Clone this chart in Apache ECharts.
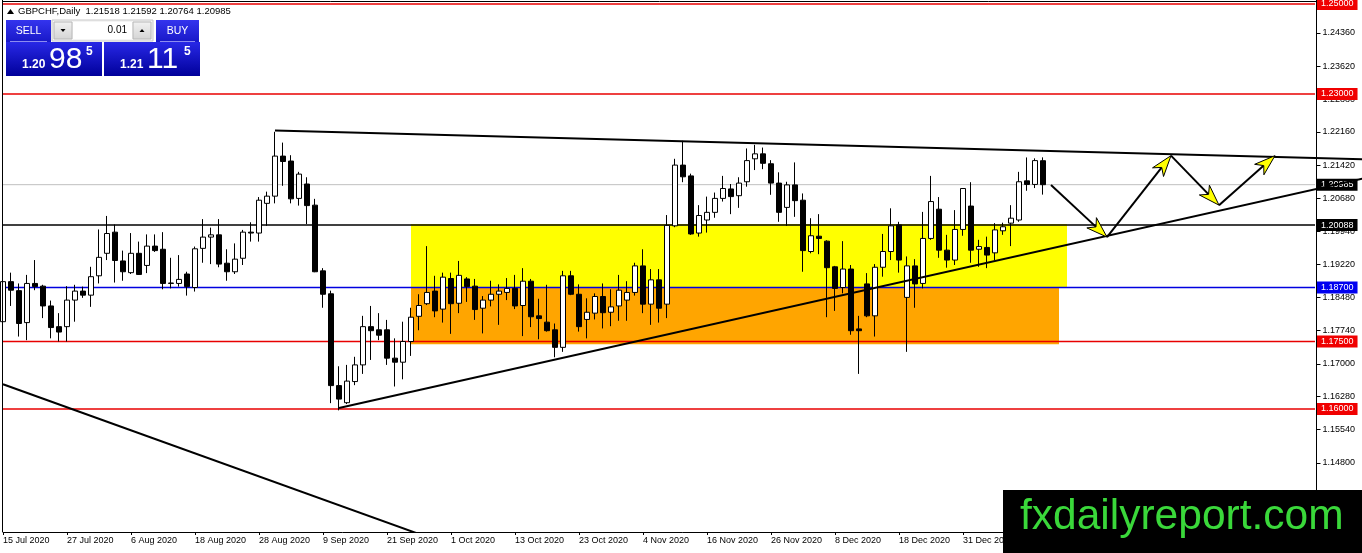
<!DOCTYPE html>
<html>
<head>
<meta charset="utf-8">
<script src="https://cdn.jsdelivr.net/npm/echarts@6.0.0/dist/echarts.min.js"></script>
<style>html,body{margin:0;padding:0;background:#fff;}#chart{width:1362px;height:553px;}</style>
</head>
<body>
<div id="chart"></div>
<script>
// ---------------- DATA ----------------
const symbolName = 'GBPCHF,Daily';
const firstDate = '2020-07-15';
const closedDays = ['2020-12-25', '2021-01-01'];
const categoryCount = 171;

const openP = [
1.1794,1.1883,1.1863,1.1792,1.1879,1.1873,1.1829,1.1783,1.1783,1.1842,
1.1862,1.1853,1.1896,1.1946,1.1993,1.1929,1.1903,1.1946,1.1919,1.1962,
1.1955,1.1879,1.1879,1.1900,1.1870,1.1957,1.1982,1.1987,1.1924,1.1905,
1.1935,1.1993,1.1991,1.2057,1.2073,1.2162,1.2151,1.2068,1.2100,1.2053,
1.1907,1.1856,1.1652,1.1614,1.1661,1.1698,1.1783,1.1776,1.1776,1.1713,
1.1704,1.1750,1.1806,1.1834,1.1862,1.1822,1.1890,1.1835,1.1889,1.1873,
1.1824,1.1842,1.1855,1.1859,1.1868,1.1830,1.1884,1.1807,1.1793,1.1776,
1.1737,1.1896,1.1855,1.1799,1.1813,1.1850,1.1815,1.1829,1.1842,1.1859,
1.1918,1.1833,1.1887,1.1833,1.2007,1.2142,1.2118,1.1991,1.2020,1.2037,
1.2068,1.2089,1.2074,1.2105,1.2156,1.2167,1.2145,1.2102,1.2048,1.2098,
1.2064,1.1950,1.1984,1.1973,1.1916,1.1870,1.1911,1.1778,1.1878,1.1807,
1.1915,1.1950,1.2009,1.1848,1.1918,1.1879,1.1979,1.2044,1.1953,1.1931,
1.1999,1.2051,1.1955,1.1959,1.1947,1.1996,1.2013,1.2020,1.2107,1.2099,
1.21518];
const highP = [
1.1911,1.1903,1.1879,1.1898,1.1931,1.1876,1.1841,1.1813,1.1873,1.1876,
1.1872,1.1916,1.1999,1.2029,1.2010,1.1952,1.1991,1.1972,1.1988,1.1988,
1.1993,1.1936,1.1942,1.1905,1.1961,1.2022,1.2003,1.2022,1.1955,1.1968,
1.1998,1.2015,1.2071,1.2083,1.2216,1.2192,1.2164,1.2127,1.2115,1.2067,
1.1913,1.1863,1.1695,1.1698,1.1716,1.1807,1.1829,1.1813,1.1798,1.1757,
1.1794,1.1825,1.1855,1.1962,1.1896,1.1903,1.1903,1.1929,1.1893,1.1889,
1.1851,1.1885,1.1877,1.1891,1.1898,1.1913,1.1889,1.1845,1.1876,1.1790,
1.1907,1.1907,1.1877,1.1846,1.1857,1.1879,1.1866,1.1898,1.1884,1.1925,
1.1955,1.1911,1.1911,1.2031,1.2156,1.2196,1.2123,1.2053,1.2072,1.2081,
1.2118,1.2100,1.2115,1.2179,1.2187,1.2181,1.2153,1.2126,1.2105,1.2148,
1.2079,1.2024,1.2033,1.1975,1.1918,1.1973,1.1920,1.1807,1.1902,1.1922,
1.1989,1.2046,1.2016,1.1939,1.1933,1.2038,1.2118,1.2071,1.1987,1.2042,
1.2091,1.2104,1.1976,1.1983,1.2013,1.2014,1.2053,1.2127,1.2159,1.2157,
1.21592];
const lowP = [
1.1789,1.1829,1.1761,1.1753,1.1864,1.1802,1.1757,1.1750,1.1750,1.1794,
1.1847,1.1827,1.1879,1.1931,1.1881,1.1885,1.1900,1.1898,1.1902,1.1949,
1.1866,1.1868,1.1872,1.1852,1.1861,1.1925,1.1922,1.1915,1.1885,1.1900,
1.1920,1.1972,1.1972,1.2007,1.2057,1.2096,1.2057,1.2052,1.2011,1.1904,
1.1825,1.1613,1.1597,1.1611,1.1653,1.1678,1.1709,1.1753,1.1698,1.1650,
1.1666,1.1718,1.1775,1.1831,1.1804,1.1792,1.1767,1.1813,1.1838,1.1798,
1.1768,1.1828,1.1787,1.1842,1.1822,1.1762,1.1782,1.1755,1.1772,1.1715,
1.1727,1.1853,1.1772,1.1757,1.1799,1.1779,1.1784,1.1796,1.1796,1.1852,
1.1813,1.1787,1.1792,1.1802,1.2004,1.2104,1.1987,1.1983,1.1992,1.2025,
1.2061,1.2033,1.2047,1.2094,1.2131,1.2133,1.2076,1.2016,1.2007,1.2027,
1.1905,1.1946,1.1944,1.1804,1.1818,1.1857,1.1765,1.1678,1.1804,1.1761,
1.1894,1.1931,1.1903,1.1727,1.1825,1.1868,1.1976,1.1936,1.1914,1.1920,
1.1985,1.1925,1.1916,1.1913,1.1931,1.1987,1.1962,1.2016,1.2085,1.2091,
1.20764];
const closeP = [
1.1883,1.1864,1.1790,1.1879,1.1872,1.1829,1.1781,1.1771,1.1842,1.1862,
1.1853,1.1894,1.1937,1.1990,1.1930,1.1905,1.1946,1.1899,1.1962,1.1952,
1.1879,1.1880,1.1888,1.1872,1.1956,1.1982,1.1987,1.1922,1.1905,1.1933,
1.1993,1.1991,1.2064,1.2073,1.2162,1.2150,1.2067,1.2122,1.2052,1.1905,
1.1855,1.1652,1.1622,1.1662,1.1698,1.1783,1.1774,1.1764,1.1713,1.1704,
1.1750,1.1804,1.1830,1.1859,1.1818,1.1893,1.1834,1.1897,1.1872,1.1821,
1.1842,1.1855,1.1862,1.1868,1.1829,1.1884,1.1805,1.1801,1.1774,1.1737,
1.1896,1.1855,1.1783,1.1815,1.1850,1.1814,1.1827,1.1864,1.1859,1.1918,
1.1833,1.1887,1.1824,1.2008,1.2142,1.2116,1.1989,1.2030,1.2037,1.2068,
1.2090,1.2072,1.2102,1.2152,1.2167,1.2146,1.2102,1.2037,1.2098,1.2063,
1.1952,1.1985,1.1979,1.1914,1.1868,1.1911,1.1774,1.1774,1.1807,1.1915,
1.1950,1.2007,1.1931,1.1918,1.1878,1.1979,1.2061,1.1953,1.1931,1.1999,
1.2090,1.1953,1.1961,1.1942,1.1998,1.2005,1.2024,1.2105,1.2099,1.2152,
1.20985];

// price axis tick labels
const yTickValues = [1.24360,1.23620,1.22880,1.22160,1.21420,1.20680,1.19940,1.19220,1.18480,1.17740,1.17000,1.16280,1.15540,1.14800,1.14060];
const yMin = 1.1326667, yMax = 1.2508889;

// horizontal level lines (price), drawn up to category index levelEndIndex
const levelPrices = [1.25000, 1.23000, 1.20985, 1.20088, 1.18700, 1.17500, 1.16000];
const levelEndIndex = 164;

// zones: [fromIndex, toIndex, lowPrice, highPrice]
const yellowZone = [51, 133, 1.1869, 1.2011];
const orangeZone = [51, 132, 1.1744, 1.1869];

// trend lines: [categoryIndex, price]
const trendTop = [[34, 1.2219], [170, 1.2155]];
const trendBottom = [[42, 1.1602], [170, 1.2112]];
const trendLeft = [[0, 1.1655], [60, 1.1271]];

// projected zigzag path
const projectionPath = [[131, 1.2098], [138, 1.1982], [146, 1.2163], [152, 1.2053], [159, 1.2163]];

// one-click trading panel quotes
const bidQuote = 1.20985, askQuote = 1.21115, lotSize = '0.01';

// ---------------- STYLES ----------------
const levelLineColors = ['#e80000','#e80000','#c0c0c0','#000000','#0000e0','#e80000','#e80000'];
const levelLineWidths = [1.5, 1.5, 1, 1.4, 1.5, 1.5, 1.5];
const levelBoxColors  = ['#f00000','#f00000','#000000','#000000','#0000f0','#f00000','#f00000'];
const FONT = 'Liberation Sans';

// ---------------- BUILD ----------------
const monthNames = ['Jan','Feb','Mar','Apr','May','Jun','Jul','Aug','Sep','Oct','Nov','Dec'];
const dates = [];
{
  let t = Date.parse(firstDate + 'T00:00:00Z');
  while (dates.length < categoryCount) {
    const d = new Date(t);
    const iso = d.toISOString().slice(0, 10);
    const dow = d.getUTCDay();
    if (dow !== 0 && dow !== 6 && closedDays.indexOf(iso) < 0) {
      dates.push(d.getUTCDate() + ' ' + monthNames[d.getUTCMonth()] + ' ' + d.getUTCFullYear());
    }
    t += 86400000;
  }
}
const candles = openP.map((o, i) => [o, closeP[i], lowP[i], highP[i]]);
const projSegments = [];
for (let i = 0; i < projectionPath.length - 1; i++) {
  projSegments.push([projectionPath[i][0], projectionPath[i][1], projectionPath[i + 1][0], projectionPath[i + 1][1]]);
}
const levelSeries = levelPrices.map((p, i) => ({
  type: 'line', z: 1, silent: true, symbol: 'none', showSymbol: false,
  data: [[0, p], [levelEndIndex, p]],
  color: levelLineColors[i],
  lineStyle: { color: levelLineColors[i], width: levelLineWidths[i], type: 'solid', opacity: 1 },
  emphasis: { disabled: true },
  endLabel: { show: true, distance: 2, formatter: p.toFixed(5), color: '#fff',
    backgroundColor: levelBoxColors[i], padding: [2, 4, 1, 4], fontSize: 9, fontFamily: FONT }
}));

const last = openP.length - 1;
const headerText = symbolName + '  ' + [openP[last], highP[last], lowP[last], closeP[last]].map(v => v.toFixed(5)).join(' ');
const bidS = bidQuote.toFixed(5), askS = askQuote.toFixed(5);

function grad(c1, c2) { return new echarts.graphic.LinearGradient(0, 0, 0, 1, [{offset:0,color:c1},{offset:1,color:c2}]); }
function priceBox(x, s) {
  return [
    { type: 'rect', z: 100, shape: { x: x, y: 42, width: 96, height: 34 }, style: { fill: grad('#2828e6', '#00009a') } },
    { type: 'text', z: 101, x: x + 16, y: 65, style: { text: s.slice(0, 4), font: 'bold 12px "' + FONT + '"', fill: '#fff', verticalAlign: 'middle' } },
    { type: 'text', z: 101, x: x + 43, y: 59.5, style: { text: s.slice(4, 6), font: '30px "' + FONT + '"', fill: '#fff', verticalAlign: 'middle' } },
    { type: 'text', z: 101, x: x + 80, y: 52, style: { text: s.slice(6), font: 'bold 12px "' + FONT + '"', fill: '#fff', verticalAlign: 'middle' } }
  ];
}

const graphics = [
  { type: 'line', z: 50, shape: { x1: 2.5, y1: 0, x2: 2.5, y2: 532 }, style: { stroke: '#000', lineWidth: 1 } },
  { type: 'line', z: 50, shape: { x1: 2, y1: 1.5, x2: 1317, y2: 1.5 }, style: { stroke: '#000', lineWidth: 1 } },
  { type: 'polygon', z: 100, shape: { points: [[7, 14], [10.5, 9], [14, 14]] }, style: { fill: '#000' } },
  { type: 'text', z: 100, x: 18, y: 11, style: { text: headerText, font: '9.5px "' + FONT + '"', fill: '#000', verticalAlign: 'middle' } },
  // SELL button
  { type: 'rect', z: 100, shape: { x: 6, y: 20, width: 45, height: 22 }, style: { fill: grad('#3434ee', '#1818c8') } },
  { type: 'line', z: 101, shape: { x1: 10, y1: 41.5, x2: 47, y2: 41.5 }, style: { stroke: '#8c8cf0', lineWidth: 1 } },
  { type: 'text', z: 101, x: 28.5, y: 31, style: { text: 'SELL', font: '10.5px "' + FONT + '"', fill: '#fff', align: 'center', verticalAlign: 'middle' } },
  // lot spinner
  { type: 'rect', z: 100, shape: { x: 52, y: 20, width: 101, height: 21 }, style: { fill: '#f4f4f4', stroke: '#c8c8c8', lineWidth: 1 } },
  { type: 'rect', z: 101, shape: { x: 54, y: 22, width: 18, height: 17 }, style: { fill: grad('#f2f2f2', '#d4d4d4'), stroke: '#b8b8b8', lineWidth: 1 } },
  { type: 'polygon', z: 102, shape: { points: [[60.5, 29], [65.5, 29], [63, 32]] }, style: { fill: '#000' } },
  { type: 'rect', z: 101, shape: { x: 73, y: 22, width: 59, height: 17 }, style: { fill: '#fff' } },
  { type: 'text', z: 102, x: 127, y: 30.5, style: { text: lotSize, font: '10px "' + FONT + '"', fill: '#000', align: 'right', verticalAlign: 'middle' } },
  { type: 'rect', z: 101, shape: { x: 133, y: 22, width: 18, height: 17 }, style: { fill: grad('#f2f2f2', '#d4d4d4'), stroke: '#b8b8b8', lineWidth: 1 } },
  { type: 'polygon', z: 102, shape: { points: [[139.5, 32], [144.5, 32], [142, 29]] }, style: { fill: '#000' } },
  // BUY button
  { type: 'rect', z: 100, shape: { x: 156, y: 20, width: 43, height: 22 }, style: { fill: grad('#3434ee', '#1818c8') } },
  { type: 'line', z: 101, shape: { x1: 160, y1: 41.5, x2: 195, y2: 41.5 }, style: { stroke: '#8c8cf0', lineWidth: 1 } },
  { type: 'text', z: 101, x: 177.5, y: 31, style: { text: 'BUY', font: '10.5px "' + FONT + '"', fill: '#fff', align: 'center', verticalAlign: 'middle' } }
].concat(priceBox(6, bidS), priceBox(104, askS), [
  // watermark
  { type: 'rect', z: 200, shape: { x: 1003, y: 490, width: 359, height: 63 }, style: { fill: '#000' } },
  { type: 'text', z: 201, x: 1020, y: 517, style: { text: 'fxdailyreport.com', font: '42.5px "' + FONT + '"', fill: '#3ad83a', verticalAlign: 'middle' } }
]);

const chart = echarts.init(document.getElementById('chart'), null, { renderer: 'canvas' });
chart.setOption({
  animation: false,
  backgroundColor: '#fff',
  textStyle: { fontFamily: FONT },
  grid: { left: 3, top: 0, width: 1360, height: 532, containLabel: false, outerBoundsMode: 'none' },
  xAxis: {
    type: 'category', data: dates, boundaryGap: false,
    axisLine: { show: true, lineStyle: { color: '#000', width: 1 } },
    axisTick: { show: true, interval: 7, length: 3, lineStyle: { color: '#000' } },
    axisLabel: { interval: 7, align: 'left', margin: 4, fontSize: 9, color: '#000', fontFamily: FONT },
    splitLine: { show: false }
  },
  yAxis: {
    type: 'value', position: 'right', offset: -46.5, min: yMin, max: yMax,
    axisLine: { show: true, lineStyle: { color: '#000', width: 1 } },
    axisTick: { show: true, length: 4, inside: false, customValues: yTickValues, lineStyle: { color: '#000' } },
    axisLabel: { customValues: yTickValues, formatter: v => v.toFixed(5), margin: 6, fontSize: 9, color: '#000', fontFamily: FONT },
    splitLine: { show: false }
  },
  series: [
    { type: 'line', data: [], z: 0, silent: true,
      markArea: { silent: true, data: [
        [{ coord: [yellowZone[0], yellowZone[3]], itemStyle: { color: '#ffff00', opacity: 1 } }, { coord: [yellowZone[1], yellowZone[2]] }],
        [{ coord: [orangeZone[0], orangeZone[3]], itemStyle: { color: '#ffa500', opacity: 1 } }, { coord: [orangeZone[1], orangeZone[2]] }]
      ] } }
  ].concat(levelSeries, [
    { type: 'candlestick', data: candles, z: 2, barWidth: 5, silent: true,
      itemStyle: { color: '#fff', color0: '#000', borderColor: '#000', borderColor0: '#000', borderWidth: 1 } },
    { type: 'line', data: trendTop, z: 3, symbol: 'none', silent: true, lineStyle: { color: '#000', width: 2 } },
    { type: 'line', data: trendBottom, z: 3, symbol: 'none', silent: true, lineStyle: { color: '#000', width: 2 } },
    { type: 'line', data: trendLeft, z: 3, symbol: 'none', silent: true, clip: true, lineStyle: { color: '#000', width: 2 } },
    { type: 'custom', data: projSegments, z: 4, silent: true, encode: { x: [0, 2], y: [1, 3] },
      renderItem: function (params, api) {
        const p1 = api.coord([api.value(0), api.value(1)]);
        const p2 = api.coord([api.value(2), api.value(3)]);
        const dx = p2[0] - p1[0], dy = p2[1] - p1[1];
        const len = Math.sqrt(dx * dx + dy * dy);
        const ux = dx / len, uy = dy / len, nx = -uy, ny = ux;
        const L = 21, W = 7, N = 6;
        const bx = p2[0] - ux * L, by = p2[1] - uy * L;
        const mx = bx + ux * N, my = by + uy * N;
        return { type: 'group', children: [
          { type: 'line', shape: { x1: p1[0], y1: p1[1], x2: mx, y2: my }, style: { stroke: '#000', lineWidth: 2 } },
          { type: 'polygon', shape: { points: [[p2[0], p2[1]], [bx + nx * W, by + ny * W], [mx, my], [bx - nx * W, by - ny * W]] },
            style: { fill: '#ffff00', stroke: '#000', lineWidth: 1 } }
        ] };
      } }
  ]),
  graphic: graphics
});
</script>
</body>
</html>
